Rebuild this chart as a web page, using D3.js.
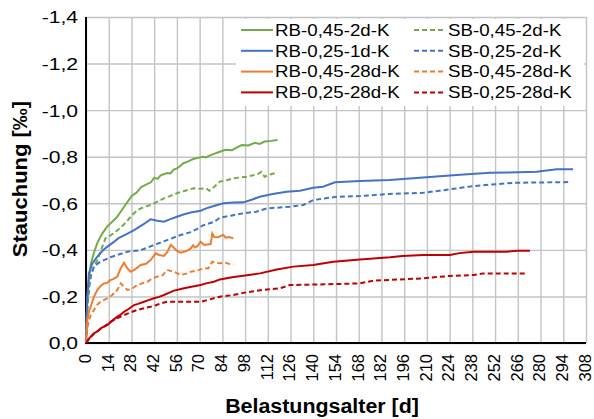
<!DOCTYPE html>
<html>
<head>
<meta charset="utf-8">
<script src="https://cdn.jsdelivr.net/npm/d3@7"></script>
<style>
  html, body { margin: 0; padding: 0; background: #fff; }
  text { font-family: "Liberation Sans", Arial, sans-serif; fill: #000; }
</style>
</head>
<body>
<svg id="chart" width="594" height="419"></svg>
<script>
// data: [Belastungsalter d, Stauchung ‰]
const rb045_2d = [[0,0],[0.5,-0.12],[1,-0.2],[2,-0.28],[3,-0.34],[5,-0.39],[7,-0.43],[10,-0.47],[13,-0.5],[16,-0.52],[19,-0.54],[22,-0.57],[25,-0.6],[28,-0.63],[31,-0.645],[34,-0.67],[37,-0.68],[40,-0.69],[42,-0.71],[44,-0.705],[46,-0.72],[50,-0.73],[52,-0.728],[54,-0.745],[56,-0.75],[58,-0.76],[60,-0.772],[63,-0.78],[66,-0.79],[69,-0.795],[72,-0.8],[74,-0.797],[76,-0.805],[78,-0.81],[82,-0.82],[86,-0.83],[90,-0.828],[93,-0.84],[96,-0.85],[100,-0.848],[104,-0.86],[107,-0.855],[110,-0.865],[114,-0.868],[118,-0.872]];
const sb045_2d = [[0,0],[0.5,-0.1],[1,-0.17],[2,-0.24],[3,-0.29],[5,-0.33],[7,-0.356],[10,-0.413],[12,-0.45],[15,-0.462],[17,-0.471],[21,-0.493],[25,-0.521],[27.5,-0.542],[31.6,-0.571],[36,-0.585],[40,-0.593],[44,-0.607],[48,-0.621],[52,-0.632],[56,-0.643],[60,-0.652],[66,-0.664],[70,-0.662],[74,-0.664],[76,-0.654],[79,-0.671],[82.5,-0.693],[87,-0.7],[91,-0.707],[95,-0.711],[99,-0.714],[103,-0.72],[105,-0.722],[108,-0.735],[110,-0.714],[114,-0.725],[117.5,-0.731]];
const rb025_1d = [[0,0],[0.5,-0.15],[1,-0.22],[1.8,-0.3],[3.9,-0.342],[7,-0.371],[10,-0.395],[13,-0.413],[17,-0.433],[20,-0.45],[25,-0.468],[29.6,-0.485],[35,-0.508],[39.8,-0.531],[44,-0.525],[48,-0.521],[52,-0.532],[56,-0.542],[60,-0.552],[64.5,-0.56],[70.6,-0.568],[74,-0.578],[78.8,-0.588],[84.6,-0.6],[91,-0.603],[97,-0.604],[102,-0.615],[107,-0.628],[115,-0.64],[123.6,-0.65],[131.8,-0.654],[140,-0.667],[146,-0.671],[153.4,-0.69],[168.8,-0.696],[187,-0.7],[207.8,-0.711],[228.3,-0.721],[248.9,-0.731],[277.6,-0.735],[290,-0.746],[300,-0.746]];
const sb025_2d = [[0,0],[0.5,-0.12],[1,-0.18],[2,-0.25],[3,-0.29],[4.9,-0.328],[8,-0.345],[11,-0.356],[15,-0.368],[19.3,-0.378],[25.5,-0.392],[33.7,-0.399],[38,-0.41],[41.9,-0.421],[50,-0.442],[58.3,-0.464],[64,-0.475],[68.6,-0.49],[72,-0.505],[78.8,-0.52],[82.5,-0.538],[90,-0.548],[97,-0.557],[105,-0.564],[111.3,-0.578],[125.7,-0.585],[133.9,-0.593],[140,-0.614],[154.4,-0.628],[168.8,-0.631],[187,-0.64],[207.8,-0.645],[224.2,-0.66],[238.6,-0.674],[263.2,-0.688],[298,-0.691]];
const rb045_28d = [[0,0],[0.8,-0.099],[2,-0.14],[2.9,-0.156],[5,-0.2],[7,-0.228],[9,-0.245],[11,-0.256],[13,-0.258],[15,-0.27],[17,-0.275],[19.3,-0.285],[21.4,-0.321],[23.4,-0.345],[25.5,-0.32],[27.5,-0.306],[30,-0.315],[33.7,-0.335],[37,-0.34],[39.8,-0.356],[42.9,-0.385],[45,-0.378],[48,-0.374],[50,-0.39],[52.2,-0.421],[54,-0.41],[56,-0.395],[58.3,-0.388],[62,-0.395],[64.5,-0.406],[66,-0.42],[67,-0.41],[68.6,-0.416],[70.6,-0.435],[72.7,-0.421],[76.8,-0.425],[77.8,-0.471],[79,-0.455],[81.5,-0.454],[83,-0.46],[84.6,-0.464],[86,-0.452],[88,-0.455],[90.7,-0.45]];
const sb045_28d = [[0,0],[0.5,-0.05],[1.8,-0.099],[3,-0.12],[4.9,-0.142],[7,-0.165],[9,-0.177],[13.1,-0.192],[16,-0.205],[19.3,-0.228],[21.4,-0.256],[23,-0.245],[25.5,-0.228],[28,-0.232],[31.6,-0.249],[34,-0.255],[37.8,-0.263],[41,-0.278],[43.9,-0.285],[47,-0.29],[50,-0.313],[52,-0.31],[54.2,-0.306],[58.3,-0.292],[62,-0.298],[64.5,-0.306],[68,-0.31],[72.7,-0.321],[75.3,-0.32],[77.8,-0.349],[80,-0.345],[82.5,-0.342],[86,-0.345],[88,-0.34],[90.7,-0.339]];
const rb025_28d = [[0,0],[2,-0.02],[4.9,-0.042],[7,-0.05],[9,-0.063],[11,-0.07],[13.1,-0.077],[16,-0.095],[19.3,-0.113],[21,-0.12],[23.4,-0.134],[26,-0.145],[29.6,-0.163],[32,-0.168],[35.7,-0.177],[39,-0.185],[41.9,-0.192],[45,-0.198],[48,-0.206],[51,-0.215],[54.2,-0.225],[60.4,-0.235],[65,-0.242],[70.6,-0.249],[74,-0.256],[78.8,-0.263],[82.5,-0.273],[90,-0.282],[96.9,-0.289],[107.2,-0.299],[117.5,-0.316],[127.7,-0.328],[140,-0.335],[152.3,-0.349],[168.8,-0.359],[187.3,-0.368],[195,-0.374],[207.8,-0.378],[224.2,-0.378],[230,-0.386],[238.6,-0.392],[259,-0.392],[266,-0.396],[273.5,-0.396]];
const sb025_28d = [[0,0],[2,-0.02],[4.9,-0.04],[9,-0.06],[12,-0.075],[15.2,-0.092],[19,-0.105],[23.4,-0.12],[27,-0.13],[31.6,-0.142],[35,-0.148],[39.8,-0.156],[43,-0.162],[46,-0.17],[50,-0.177],[60.4,-0.177],[70.6,-0.177],[74,-0.183],[78.8,-0.192],[82.5,-0.199],[90.7,-0.206],[99,-0.218],[111.3,-0.23],[119.5,-0.235],[125.7,-0.249],[140,-0.251],[152.3,-0.253],[168.8,-0.256],[177,-0.268],[193.4,-0.273],[207.8,-0.278],[224.2,-0.288],[238.6,-0.292],[244.7,-0.299],[271.5,-0.299]];

const rbNames = ["RB-0,45-2d-K", "RB-0,25-1d-K", "RB-0,45-28d-K", "RB-0,25-28d-K"];
const sbNames = ["SB-0,45-2d-K", "SB-0,25-2d-K", "SB-0,45-28d-K", "SB-0,25-28d-K"];
const rbData = [rb045_2d, rb025_1d, rb045_28d, rb025_28d];
const sbData = [sb045_2d, sb025_2d, sb045_28d, sb025_28d];
const colors = ["#70ad47", "#4472c4", "#ed7d31", "#c00000"];

const xTicks = d3.range(0, 309, 14);
const yTicks = [0, -0.2, -0.4, -0.6, -0.8, -1.0, -1.2, -1.4];

const svg = d3.select("#chart");
const plotL = 86, plotR = 586, plotT = 17, plotB = 343;

const x = d3.scaleLinear().domain([0, 308]).range([plotL, plotR]);
const y = d3.scaleLinear().domain([0, -1.4]).range([plotB, plotT]);

const de = d3.formatLocale({decimal: ",", thousands: ".", grouping: [3], currency: ["", "€"], minus: "-"});
const fmt = de.format(".1f");

// gridlines
svg.append("g")
  .attr("transform", `translate(0,${plotB})`)
  .call(d3.axisBottom(x).tickValues(xTicks).tickSize(-(plotB - plotT)).tickFormat(""))
  .call(g => g.select(".domain").remove())
  .call(g => g.selectAll("line").attr("stroke", "#c4c4c4").attr("stroke-width", 1.4));
svg.append("g")
  .attr("transform", `translate(${plotL},0)`)
  .call(d3.axisLeft(y).tickValues(yTicks).tickSize(-(plotR - plotL)).tickFormat(""))
  .call(g => g.select(".domain").remove())
  .call(g => g.selectAll("line").attr("stroke", "#c4c4c4").attr("stroke-width", 1.4));

// y tick labels
const sxY = 1.28;
svg.append("g")
  .attr("transform", `translate(${plotL},0)`)
  .call(d3.axisLeft(y).tickValues(yTicks).tickSize(0).tickFormat(fmt))
  .call(g => g.select(".domain").remove())
  .call(g => g.selectAll("text")
    .attr("x", -8 / sxY)
    .attr("dy", "0.36em")
    .attr("transform", `scale(${sxY},1)`)
    .style("font-size", "16.5px")
    .style("font-family", "'Liberation Sans', Arial, sans-serif"));

// x tick labels, rotated
svg.append("g")
  .attr("transform", `translate(0,${plotB})`)
  .call(d3.axisBottom(x).tickValues(xTicks).tickSize(0).tickFormat(d => d))
  .call(g => g.select(".domain").remove())
  .call(g => g.selectAll("text")
    .attr("text-anchor", "end")
    .attr("x", 0).attr("y", 0).attr("dy", null)
    .attr("transform", "translate(4.3,11) rotate(-90)")
    .style("font-size", "16.5px")
    .style("font-family", "'Liberation Sans', Arial, sans-serif"));

// axis lines
svg.append("line").attr("x1", plotL).attr("x2", plotL).attr("y1", plotT).attr("y2", plotB + 1)
  .attr("stroke", "#000").attr("stroke-width", 2);
svg.append("line").attr("x1", plotL - 1).attr("x2", plotR).attr("y1", plotB).attr("y2", plotB)
  .attr("stroke", "#000").attr("stroke-width", 2);

// series
const line = d3.line().x(d => x(d[0])).y(d => y(d[1]));
const plot = svg.append("g");
rbData.forEach((data, i) => {
  plot.append("path").datum(sbData[i])
    .attr("fill", "none").attr("stroke", colors[i]).attr("stroke-width", 2)
    .attr("stroke-dasharray", "5,3").attr("d", line);
});
rbData.forEach((data, i) => {
  plot.append("path").datum(data)
    .attr("fill", "none").attr("stroke", colors[i]).attr("stroke-width", 2)
    .attr("d", line);
});

// legend
const leg = svg.append("g");
leg.append("rect").attr("x", 236).attr("y", 19).attr("width", 348).attr("height", 87).attr("fill", "#fff");
const sxL = 1.17;
const rowY = i => 30 + i * 20.8;
function legendItem(name, color, dashed, lx, i) {
  leg.append("line")
    .attr("x1", lx).attr("x2", lx + 32).attr("y1", rowY(i)).attr("y2", rowY(i))
    .attr("stroke", color).attr("stroke-width", 2)
    .attr("stroke-dasharray", dashed ? "5,3" : null);
  leg.append("text")
    .attr("transform", `translate(${lx + 34},${rowY(i)}) scale(${sxL},1)`)
    .attr("dy", "0.36em")
    .style("font-size", "16px")
    .text(name);
}
rbNames.forEach((n, i) => legendItem(n, colors[i], false, 241, i));
sbNames.forEach((n, i) => legendItem(n, colors[i], true, 414, i));

// axis titles
svg.append("text")
  .attr("transform", "translate(322,413) scale(1.07,1)")
  .attr("text-anchor", "middle")
  .style("font-size", "20px").style("font-weight", "bold")
  .text("Belastungsalter [d]");
svg.append("text")
  .attr("transform", "translate(27,179) rotate(-90) scale(1.1,1)")
  .attr("text-anchor", "middle")
  .style("font-size", "20px").style("font-weight", "bold")
  .text("Stauchung [‰]");
</script>
</body>
</html>
